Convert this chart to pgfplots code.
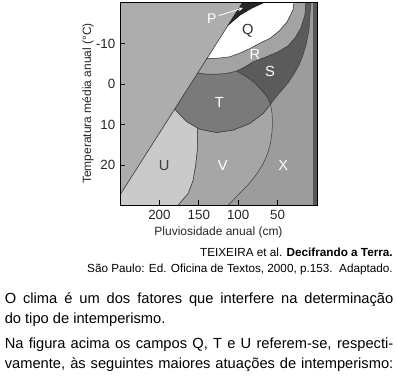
\documentclass[border=0pt]{standalone}
\usepackage{fontspec}
\setmainfont{Liberation Sans}
\usepackage{pgfplots}
\pgfplotsset{compat=1.18}
\usetikzlibrary{arrows.meta}
\definecolor{cX}{HTML}{9C9C9C}
\definecolor{cV}{HTML}{A6A6A6}
\definecolor{cU}{HTML}{CACACA}
\definecolor{cL}{HTML}{ADADAD}
\definecolor{cT}{HTML}{7A7A7A}
\definecolor{cS}{HTML}{5B5B5B}
\definecolor{cR}{HTML}{A3A3A3}
\definecolor{cP}{HTML}{262626}
\definecolor{cStrip}{HTML}{555555}
\definecolor{cLine}{HTML}{404040}
\begin{document}
\begin{tikzpicture}
\path[use as bounding box] (0,0) rectangle (297.75pt,-282pt);
\begin{axis}[
  at={(90pt,-1.5pt)}, anchor=north west,
  scale only axis, width=147.75pt, height=152.25pt,
  xmin=-250, xmax=0, ymin=-29.81, ymax=20.29,
  axis on top, no marks,
  xtick={-200,-150,-100,-50}, xticklabels={200,150,100,50},
  ytick={10,0,-10,-20}, yticklabels={-10,0,10,20},
  xtick pos=bottom, ytick pos=left,
  tick align=inside, major tick length=3.75pt,
  tick style={black, line width=0.5pt},
  axis line style={black, line width=0.6pt},
  ticklabel style={font=\fontsize{10}{12}\selectfont, text=black!85},
  /pgf/number format/assume math mode=true,
  xlabel={Pluviosidade anual (cm)},
  ylabel={Temperatura média anual (°C)},
  label style={font=\fontsize{9}{10}\selectfont, text=black!85},
  ylabel style={yshift=-5pt},
  xlabel style={yshift=1pt},
]
% background (X)
\addplot[fill=cX, draw=none] coordinates {(-260,-35) (5,-35) (5,25) (-260,25)} -- cycle;
% left region above diagonal
\addplot[fill=cL, draw=cLine, line width=0.4pt] coordinates {(-270,-33.44) (-85,23.0) (-270,23.0)} -- cycle;
% U
\addplot[fill=cU, draw=cLine, line width=0.4pt] coordinates {
 (-180.5,-6.14) (-165.4,-9.25) (-151.6,-10.78) (-151.5,-13.77) (-152.0,-16.73)
 (-153.9,-19.94) (-157.0,-23.64) (-163.3,-26.93) (-176.0,-29.81) (-184.0,-31.54)
 (-184,-34) (-270,-34) (-270,-33.44)} -- cycle;
% V
\addplot[fill=cV, draw=cLine, line width=0.4pt] coordinates {
 (-59.0,-4.89) (-68.1,-7.18) (-85.0,-9.65) (-106.2,-11.30) (-127.3,-11.92)
 (-148.5,-11.13) (-151.6,-10.78) (-151.5,-13.77) (-152.0,-16.73)
 (-153.9,-19.94) (-157.0,-23.64) (-163.3,-26.93) (-176.0,-29.81) (-184.0,-31.54)
 (-120.6,-31.54) (-112.6,-29.81) (-99.0,-27.10) (-87.6,-24.88) (-77.4,-22.41)
 (-68.5,-19.69) (-62.8,-17.23) (-59.0,-14.51) (-57.1,-11.80) (-56.5,-9.33) (-57.1,-7.11)} -- cycle;
% T
\addplot[fill=cT, draw=cLine, line width=0.4pt] coordinates {
 (-151.3,2.76) (-142.1,2.52) (-129.4,2.44) (-115.5,2.64) (-101.5,3.26)
 (-89.2,1.85) (-78.7,0.30) (-72.3,-1.01) (-66.0,-2.42) (-61.8,-3.48) (-59.0,-4.89)
 (-68.1,-7.18) (-85.0,-9.65) (-106.2,-11.30) (-127.3,-11.92) (-148.5,-11.13)
 (-151.6,-10.78) (-165.4,-9.25) (-180.5,-6.14)} -- cycle;
% R
\addplot[fill=cR, draw=cLine, line width=0.4pt] coordinates {
 (-151.3,2.76) (-139.6,6.34) (-125.6,6.42) (-110.4,6.79) (-97.7,7.70) (-85.0,8.81)
 (-72.3,10.17) (-59.6,11.33) (-48.2,13.13) (-38.1,15.35) (-30.5,18.31) (-29.2,20.29)
 (-29.2,21) (-14.0,21) (-14.0,20.29) (-15.2,17.08) (-20.3,13.87) (-27.9,11.40)
 (-36.8,9.43) (-49.5,7.95) (-64.7,6.71) (-81.2,5.48) (-92.6,4.12) (-101.5,3.26)
 (-115.5,2.64) (-129.4,2.44) (-142.1,2.52)} -- cycle;
% S
\addplot[fill=cS, draw=cLine, line width=0.4pt] coordinates {
 (-59.0,-4.89) (-61.8,-3.48) (-66.0,-2.42) (-72.3,-1.01) (-78.7,0.30) (-89.2,1.85)
 (-101.5,3.26) (-92.6,4.12) (-81.2,5.48) (-64.7,6.71) (-49.5,7.95) (-36.8,9.43)
 (-27.9,11.40) (-20.3,13.87) (-15.2,17.08) (-14.0,20.29) (-14.0,21) (-7.3,21)
 (-7.6,20.29) (-8.9,17.08) (-10.2,13.38) (-13.3,10.17) (-17.8,7.21) (-22.8,4.74)
 (-29.2,2.52) (-36.8,0.30) (-44.4,-1.43) (-52.0,-3.16)} -- cycle;
% Q
\addplot[fill=white, draw=cLine, line width=0.4pt] coordinates {
 (-139.6,6.34) (-112.6,14.61) (-97.7,17.08) (-82.5,18.81) (-66.0,20.29) (-62,21)
 (-29.2,21) (-29.2,20.29) (-30.5,18.31) (-38.1,15.35) (-48.2,13.13) (-59.6,11.33)
 (-72.3,10.17) (-85.0,8.81) (-97.7,7.70) (-110.4,6.79) (-125.6,6.42)} -- cycle;
% P
\addplot[fill=cP, draw=cP, line width=0.4pt] coordinates {
 (-112.6,14.61) (-91.6,21) (-62,21) (-66.0,20.29) (-82.5,18.81) (-97.7,17.08)} -- cycle;
% right strip
\addplot[fill=cStrip, draw=none] coordinates {(-4.44,-35) (5,-35) (5,25) (-4.44,25)} -- cycle;
% labels
\node[text=white, font=\fontsize{10.5}{12}\selectfont] at (axis cs:-133.6,16.26) {P};
\draw[white, line width=0.6pt, -{Stealth[length=3.5pt,width=3pt]}] (axis cs:-124.4,16.95) -- (axis cs:-93.9,18.81);
\node[text=black!80, font=\fontsize{11}{13}\selectfont] at (axis cs:-87.9,13.2) {Q};
\node[text=white, font=\fontsize{11}{13}\selectfont] at (axis cs:-78.7,7.3) {R};
\node[text=white, font=\fontsize{11}{13}\selectfont] at (axis cs:-59.6,3.08) {S};
\node[text=white, font=\fontsize{11}{13}\selectfont] at (axis cs:-124.0,-4.57) {T};
\node[text=black!75, font=\fontsize{11}{13}\selectfont] at (axis cs:-193.8,-20.11) {U};
\node[text=white, font=\fontsize{11}{13}\selectfont] at (axis cs:-119.7,-20.11) {V};
\node[text=white, font=\fontsize{11}{13}\selectfont] at (axis cs:-42.8,-20.11) {X};
\end{axis}
\node[anchor=base east, inner sep=0, font=\fontsize{8.8}{10}\selectfont] at (294.75pt,-192.4pt) {TEIXEIRA et al. \textbf{Decifrando a Terra.}};
\node[anchor=base east, inner sep=0, font=\fontsize{8.8}{10}\selectfont] at (294.75pt,-204pt) {São Paulo: Ed. Oficina de Textos, 2000, p.153.\ \ Adaptado.};
\node[anchor=base west, inner sep=0, font=\fontsize{11}{13}\selectfont] at (3.4pt,-227.25pt) {\makebox[291.4pt][s]{O clima é um dos fatores que interfere na determinação}};
\node[anchor=base west, inner sep=0, font=\fontsize{11}{13}\selectfont] at (3.4pt,-242.25pt) {do tipo de intemperismo.};
\node[anchor=base west, inner sep=0, font=\fontsize{11}{13}\selectfont] at (3.4pt,-261pt) {\makebox[291.4pt][s]{Na figura acima os campos Q, T e U referem-se, respecti-}};
\node[anchor=base west, inner sep=0, font=\fontsize{11}{13}\selectfont] at (3.4pt,-276pt) {\makebox[291.4pt][s]{vamente, às seguintes maiores atuações de intemperismo:}};
\end{tikzpicture}
\end{document}
